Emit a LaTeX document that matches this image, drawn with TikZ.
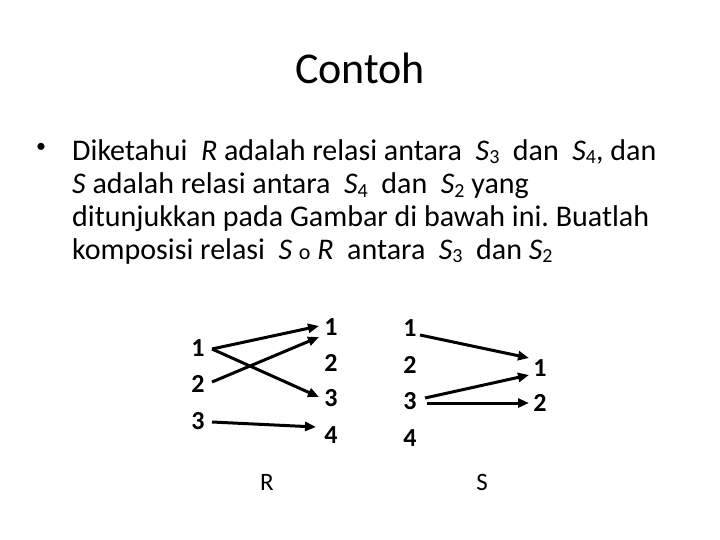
\documentclass[tikz,border=0pt]{standalone}
\usepackage{fontspec}
\setmainfont{Carlito}
\usetikzlibrary{arrows.meta,calc}
\frenchspacing
\begin{document}
\begin{tikzpicture}[x=1pt,y=-1pt,
  body/.style={anchor=base west,inner sep=0pt,font=\fontsize{30}{36}\selectfont},
  num/.style={inner sep=0pt,font=\fontsize{26}{30}\selectfont\bfseries},
  lbl/.style={inner sep=0pt,font=\fontsize{25}{30}\selectfont},
  rel/.style={line width=3pt,-{Triangle[length=11pt,width=9pt]}}]
\useasboundingbox (0,0) rectangle (720,540);
\node[inner sep=0pt,font=\fontsize{44}{52}\selectfont] (title) at (360,68) {Contoh};
\node[inner sep=0pt,font=\fontsize{20}{24}\selectfont] (bul) at (41,148) {•};
\newcommand{\vS}[1]{\textit{S}\raisebox{-3pt}{\fontsize{20}{24}\selectfont #1}}
\node[body] (l1) at (72,161) {Diketahui\ \ \textit{R} adalah relasi antara\ \ \vS{3}\ \ dan\ \ \vS{4}, dan};
\node[body] (l2) at (72,194) {\textit{S} adalah relasi antara\ \ \vS{4}\ \ dan\ \ \vS{2} yang};
\node[body] (l3) at (72,226) {ditunjukkan pada Gambar di bawah ini. Buatlah};
\node[body] (l4) at (72,259) {komposisi relasi\ \ \textit{S} {\fontsize{22}{26}\selectfont o} \textit{R}\ \ antara\ \ \vS{3}\ \ dan \vS{2}};
% R relation
\node[num] (a1) at (198,348) {1};
\node[num] (a2) at (198,384) {2};
\node[num] (a3) at (198,421) {3};
\node[num] (b1) at (331,327) {1};
\node[num] (b2) at (331,363) {2};
\node[num] (b3) at (331,398) {3};
\node[num] (b4) at (331,435) {4};
% S relation
\node[num] (c1) at (410,328) {1};
\node[num] (c2) at (410,365) {2};
\node[num] (c3) at (410,401) {3};
\node[num] (c4) at (410,438) {4};
\node[num] (d1) at (540,368) {1};
\node[num] (d2) at (540,403) {2};
\node[lbl] (rl) at (267,482) {R};
\node[lbl] (sl) at (482,482) {S};
\draw[rel] ($(a1)+(14,1)$) -- ($(b1)+(-12,-1)$);
\draw[rel] ($(a1)+(14,1)$) -- ($(b3)+(-12,-1)$);
\draw[rel] ($(a2)+(14,-2)$) -- ($(b1)+(-12,10)$);
\draw[rel] ($(a3)+(14,1)$) -- ($(b4)+(-15,-8)$);
\draw[rel] ($(c1)+(10,7)$) -- ($(d1)+(-11,-10)$);
\draw[rel] ($(c3)+(15,-3)$) -- ($(d1)+(-11,7)$);
\draw[rel] ($(c3)+(17,2)$) -- ($(d2)+(-11,0)$);
\end{tikzpicture}
\end{document}
